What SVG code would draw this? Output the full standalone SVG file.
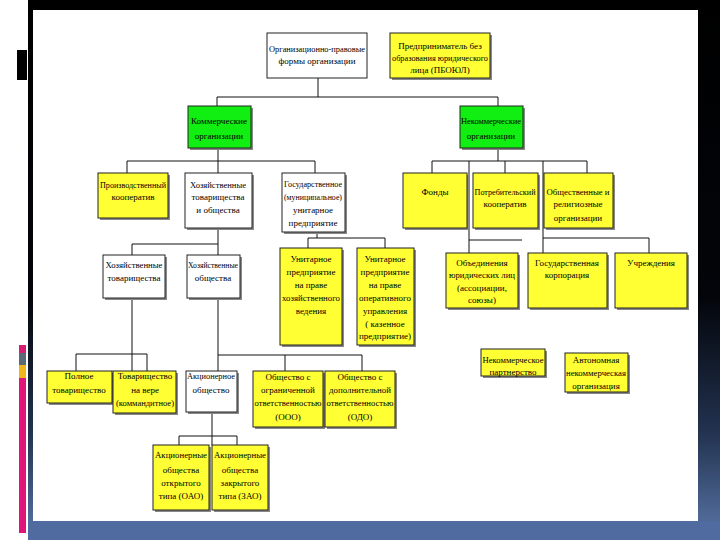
<svg xmlns="http://www.w3.org/2000/svg" width="720" height="540" viewBox="0 0 720 540">
<defs>
<linearGradient id="bg" x1="0" y1="0" x2="0" y2="1">
<stop offset="0" stop-color="#000"/>
<stop offset="0.55" stop-color="#03050a"/>
<stop offset="0.8" stop-color="#22324f"/>
<stop offset="1" stop-color="#5a76a8"/>
</linearGradient>
<style>
.b{stroke:#222;stroke-width:1}
.w{fill:#fff}
.y{fill:#ffff33}
.g{fill:#11ee11}
.sh{fill:#888}
.c{fill:none;stroke:#111;stroke-width:1}
text{font-family:"Liberation Serif","Times New Roman",serif;font-size:9px;fill:#000;text-anchor:middle}
</style>
</defs>
<rect x="0" y="0" width="720" height="540" fill="#fff"/>
<rect x="28" y="0" width="692" height="540" fill="url(#bg)"/>
<rect x="28" y="521" width="692" height="19" fill="#4f6b9f"/>
<rect x="33" y="10" width="665" height="511" fill="#fff"/>
<rect x="17" y="50" width="10" height="30" fill="#000"/>
<rect x="19" y="345" width="7" height="8" fill="#d81b75"/>
<rect x="19" y="353" width="7" height="12" fill="#5a6a78"/>
<rect x="19" y="365" width="7" height="13" fill="#f2b61c"/>
<rect x="19" y="378" width="7" height="155" fill="#e0147a"/>

<g id="connectors">
<path class="c" d="M318,78V97M217,97H498M217,97V106M498,97V106"/>
<path class="c" d="M218,148V173M127,161H315M127,161V173M315,161V173"/>
<path class="c" d="M218,228V255M132,244H218M132,244V255"/>
<path class="c" d="M317,232V238M308,238H385M308,238V248M385,238V248"/>
<path class="c" d="M498,148V161M432,161H587M432,161V173M505,161V173M587,161V173"/>
<path class="c" d="M469,161V253M469,240H522"/>
<path class="c" d="M543,161V253M543,238H649M649,238V253"/>
<path class="c" d="M132,298V371M76,354H147M76,354V371M147,354V371"/>
<path class="c" d="M218,298V371M218,355H362M285,355V371M362,355V371"/>
<path class="c" d="M212,412V445M179,436H237M179,436V445M237,436V445"/>
</g>

<g id="n1"><rect class="b w" x="267" y="33" width="100" height="45"/><text x="317" y="52" textLength="96" lengthAdjust="spacingAndGlyphs">Организационно-правовые</text><text x="317" y="64">формы организации</text></g>
<g id="n2"><rect class="sh" x="392" y="35" width="100" height="45"/><rect class="b y" x="390" y="33" width="100" height="45"/><text x="440" y="49">Предприниматель без</text><text x="440" y="61" textLength="96" lengthAdjust="spacingAndGlyphs">образования юридического</text><text x="440" y="73">лица (ПБОЮЛ)</text></g>

<g id="n3"><rect class="sh" x="190" y="108" width="63" height="42"/><rect class="b g" x="188" y="106" width="63" height="42"/><text x="219" y="124" textLength="56" lengthAdjust="spacingAndGlyphs">Коммерческие</text><text x="219" y="139">организации</text></g>
<g id="n4"><rect class="sh" x="462" y="108" width="63" height="42"/><rect class="b g" x="460" y="106" width="63" height="42"/><text x="491" y="124" textLength="60" lengthAdjust="spacingAndGlyphs">Некоммерческие</text><text x="491" y="139">организации</text></g>

<g id="n5"><rect class="sh" x="100" y="175" width="70" height="45"/><rect class="b y" x="98" y="173" width="70" height="45"/><text x="133" y="188" textLength="66" lengthAdjust="spacingAndGlyphs">Производственный</text><text x="133" y="200">кооператив</text></g>
<g id="n6"><rect class="sh" x="187" y="175" width="67" height="55"/><rect class="b w" x="185" y="173" width="67" height="55"/><text x="218" y="188" textLength="56" lengthAdjust="spacingAndGlyphs">Хозяйственные</text><text x="218" y="200">товарищества</text><text x="218" y="213">и общества</text></g>
<g id="n7"><rect class="sh" x="284" y="175" width="63" height="59"/><rect class="b w" x="282" y="173" width="63" height="59"/><text x="313" y="187" textLength="58" lengthAdjust="spacingAndGlyphs">Государственное</text><text x="313" y="200" textLength="58" lengthAdjust="spacingAndGlyphs">(муниципальное)</text><text x="313" y="213">унитарное</text><text x="313" y="226">предприятие</text></g>

<g id="n8"><rect class="sh" x="405" y="175" width="64" height="55"/><rect class="b y" x="403" y="173" width="64" height="55"/><text x="435" y="195">Фонды</text></g>
<g id="n9"><rect class="sh" x="475" y="175" width="65" height="55"/><rect class="b y" x="473" y="173" width="65" height="55"/><text x="505" y="195" textLength="61" lengthAdjust="spacingAndGlyphs">Потребительский</text><text x="505" y="207">кооператив</text></g>
<g id="n10"><rect class="sh" x="546" y="175" width="69" height="55"/><rect class="b y" x="544" y="173" width="69" height="55"/><text x="578" y="195" textLength="63" lengthAdjust="spacingAndGlyphs">Общественные и</text><text x="578" y="207">религиозные</text><text x="578" y="221">организации</text></g>

<g id="n11"><rect class="sh" x="105" y="257" width="62" height="43"/><rect class="b w" x="103" y="255" width="62" height="43"/><text x="134" y="268" textLength="57" lengthAdjust="spacingAndGlyphs">Хозяйственные</text><text x="134" y="281">товарищества</text></g>
<g id="n12"><rect class="sh" x="189" y="257" width="53" height="43"/><rect class="b w" x="187" y="255" width="53" height="43"/><text x="213" y="268" textLength="50" lengthAdjust="spacingAndGlyphs">Хозяйственные</text><text x="213" y="281">общества</text></g>

<g id="n13"><rect class="sh" x="282" y="250" width="62" height="97"/><rect class="b y" x="280" y="248" width="62" height="97"/><text x="311" y="262">Унитарное</text><text x="311" y="275">предприятие</text><text x="311" y="288">на праве</text><text x="311" y="301" textLength="58" lengthAdjust="spacingAndGlyphs">хозяйственного</text><text x="311" y="314">ведения</text></g>
<g id="n14"><rect class="sh" x="359" y="250" width="57" height="97"/><rect class="b y" x="357" y="248" width="57" height="97"/><text x="385" y="262">Унитарное</text><text x="385" y="275">предприятие</text><text x="385" y="288">на праве</text><text x="385" y="301">оперативного</text><text x="385" y="314">управления</text><text x="385" y="327">( казенное</text><text x="385" y="339" textLength="52" lengthAdjust="spacingAndGlyphs">предприятие)</text></g>

<g id="n15"><rect class="sh" x="448" y="255" width="72" height="55"/><rect class="b y" x="446" y="253" width="72" height="55"/><text x="482" y="266">Объединения</text><text x="482" y="278" textLength="66" lengthAdjust="spacingAndGlyphs">юридических лиц</text><text x="482" y="291">(ассоциации,</text><text x="482" y="303">союзы)</text></g>
<g id="n16"><rect class="sh" x="530" y="255" width="79" height="55"/><rect class="b y" x="528" y="253" width="79" height="55"/><text x="567" y="266">Государственная</text><text x="567" y="278">корпорация</text></g>
<g id="n17"><rect class="sh" x="617" y="255" width="72" height="55"/><rect class="b y" x="615" y="253" width="72" height="55"/><text x="651" y="266">Учреждения</text></g>

<g id="n18"><rect class="sh" x="483" y="351" width="64" height="27"/><rect class="b y" x="481" y="349" width="64" height="27"/><text x="513" y="363" textLength="61" lengthAdjust="spacingAndGlyphs">Некоммерческое</text><text x="513" y="375">партнерство</text></g>
<g id="n19"><rect class="sh" x="567" y="355" width="63" height="39"/><rect class="b y" x="565" y="353" width="63" height="39"/><text x="596" y="363">Автономная</text><text x="596" y="376" textLength="60" lengthAdjust="spacingAndGlyphs">некоммерческая</text><text x="596" y="389">организация</text></g>

<g id="n20"><rect class="sh" x="49" y="373" width="65" height="32"/><rect class="b y" x="47" y="371" width="65" height="32"/><text x="79" y="379">Полное</text><text x="79" y="393">товарищество</text></g>
<g id="n21"><rect class="sh" x="115" y="373" width="63" height="42"/><rect class="b y" x="113" y="371" width="63" height="42"/><text x="145" y="379">Товарищество</text><text x="145" y="393">на вере</text><text x="145" y="406" textLength="58" lengthAdjust="spacingAndGlyphs">(коммандитное)</text></g>
<g id="n22"><rect class="sh" x="188" y="373" width="51" height="41"/><rect class="b w" x="186" y="371" width="51" height="41"/><text x="211" y="379" textLength="48" lengthAdjust="spacingAndGlyphs">Акционерное</text><text x="211" y="393">общество</text></g>
<g id="n23"><rect class="sh" x="255" y="373" width="70" height="56"/><rect class="b y" x="253" y="371" width="70" height="56"/><text x="288" y="380">Общество с</text><text x="288" y="393">ограниченной</text><text x="288" y="406" textLength="67" lengthAdjust="spacingAndGlyphs">ответственностью</text><text x="288" y="420">(ООО)</text></g>
<g id="n24"><rect class="sh" x="327" y="373" width="70" height="56"/><rect class="b y" x="325" y="371" width="70" height="56"/><text x="360" y="380">Общество с</text><text x="360" y="393" textLength="62" lengthAdjust="spacingAndGlyphs">дополнительной</text><text x="360" y="406" textLength="67" lengthAdjust="spacingAndGlyphs">ответственностью</text><text x="360" y="420">(ОДО)</text></g>

<g id="n25"><rect class="sh" x="155" y="447" width="56" height="65"/><rect class="b y" x="153" y="445" width="56" height="65"/><text x="181" y="458" textLength="52" lengthAdjust="spacingAndGlyphs">Акционерные</text><text x="181" y="473">общества</text><text x="181" y="486">открытого</text><text x="181" y="499">типа (ОАО)</text></g>
<g id="n26"><rect class="sh" x="214" y="447" width="56" height="65"/><rect class="b y" x="212" y="445" width="56" height="65"/><text x="240" y="458" textLength="52" lengthAdjust="spacingAndGlyphs">Акционерные</text><text x="240" y="473">общества</text><text x="240" y="486">закрытого</text><text x="240" y="499">типа (ЗАО)</text></g>
</svg>
